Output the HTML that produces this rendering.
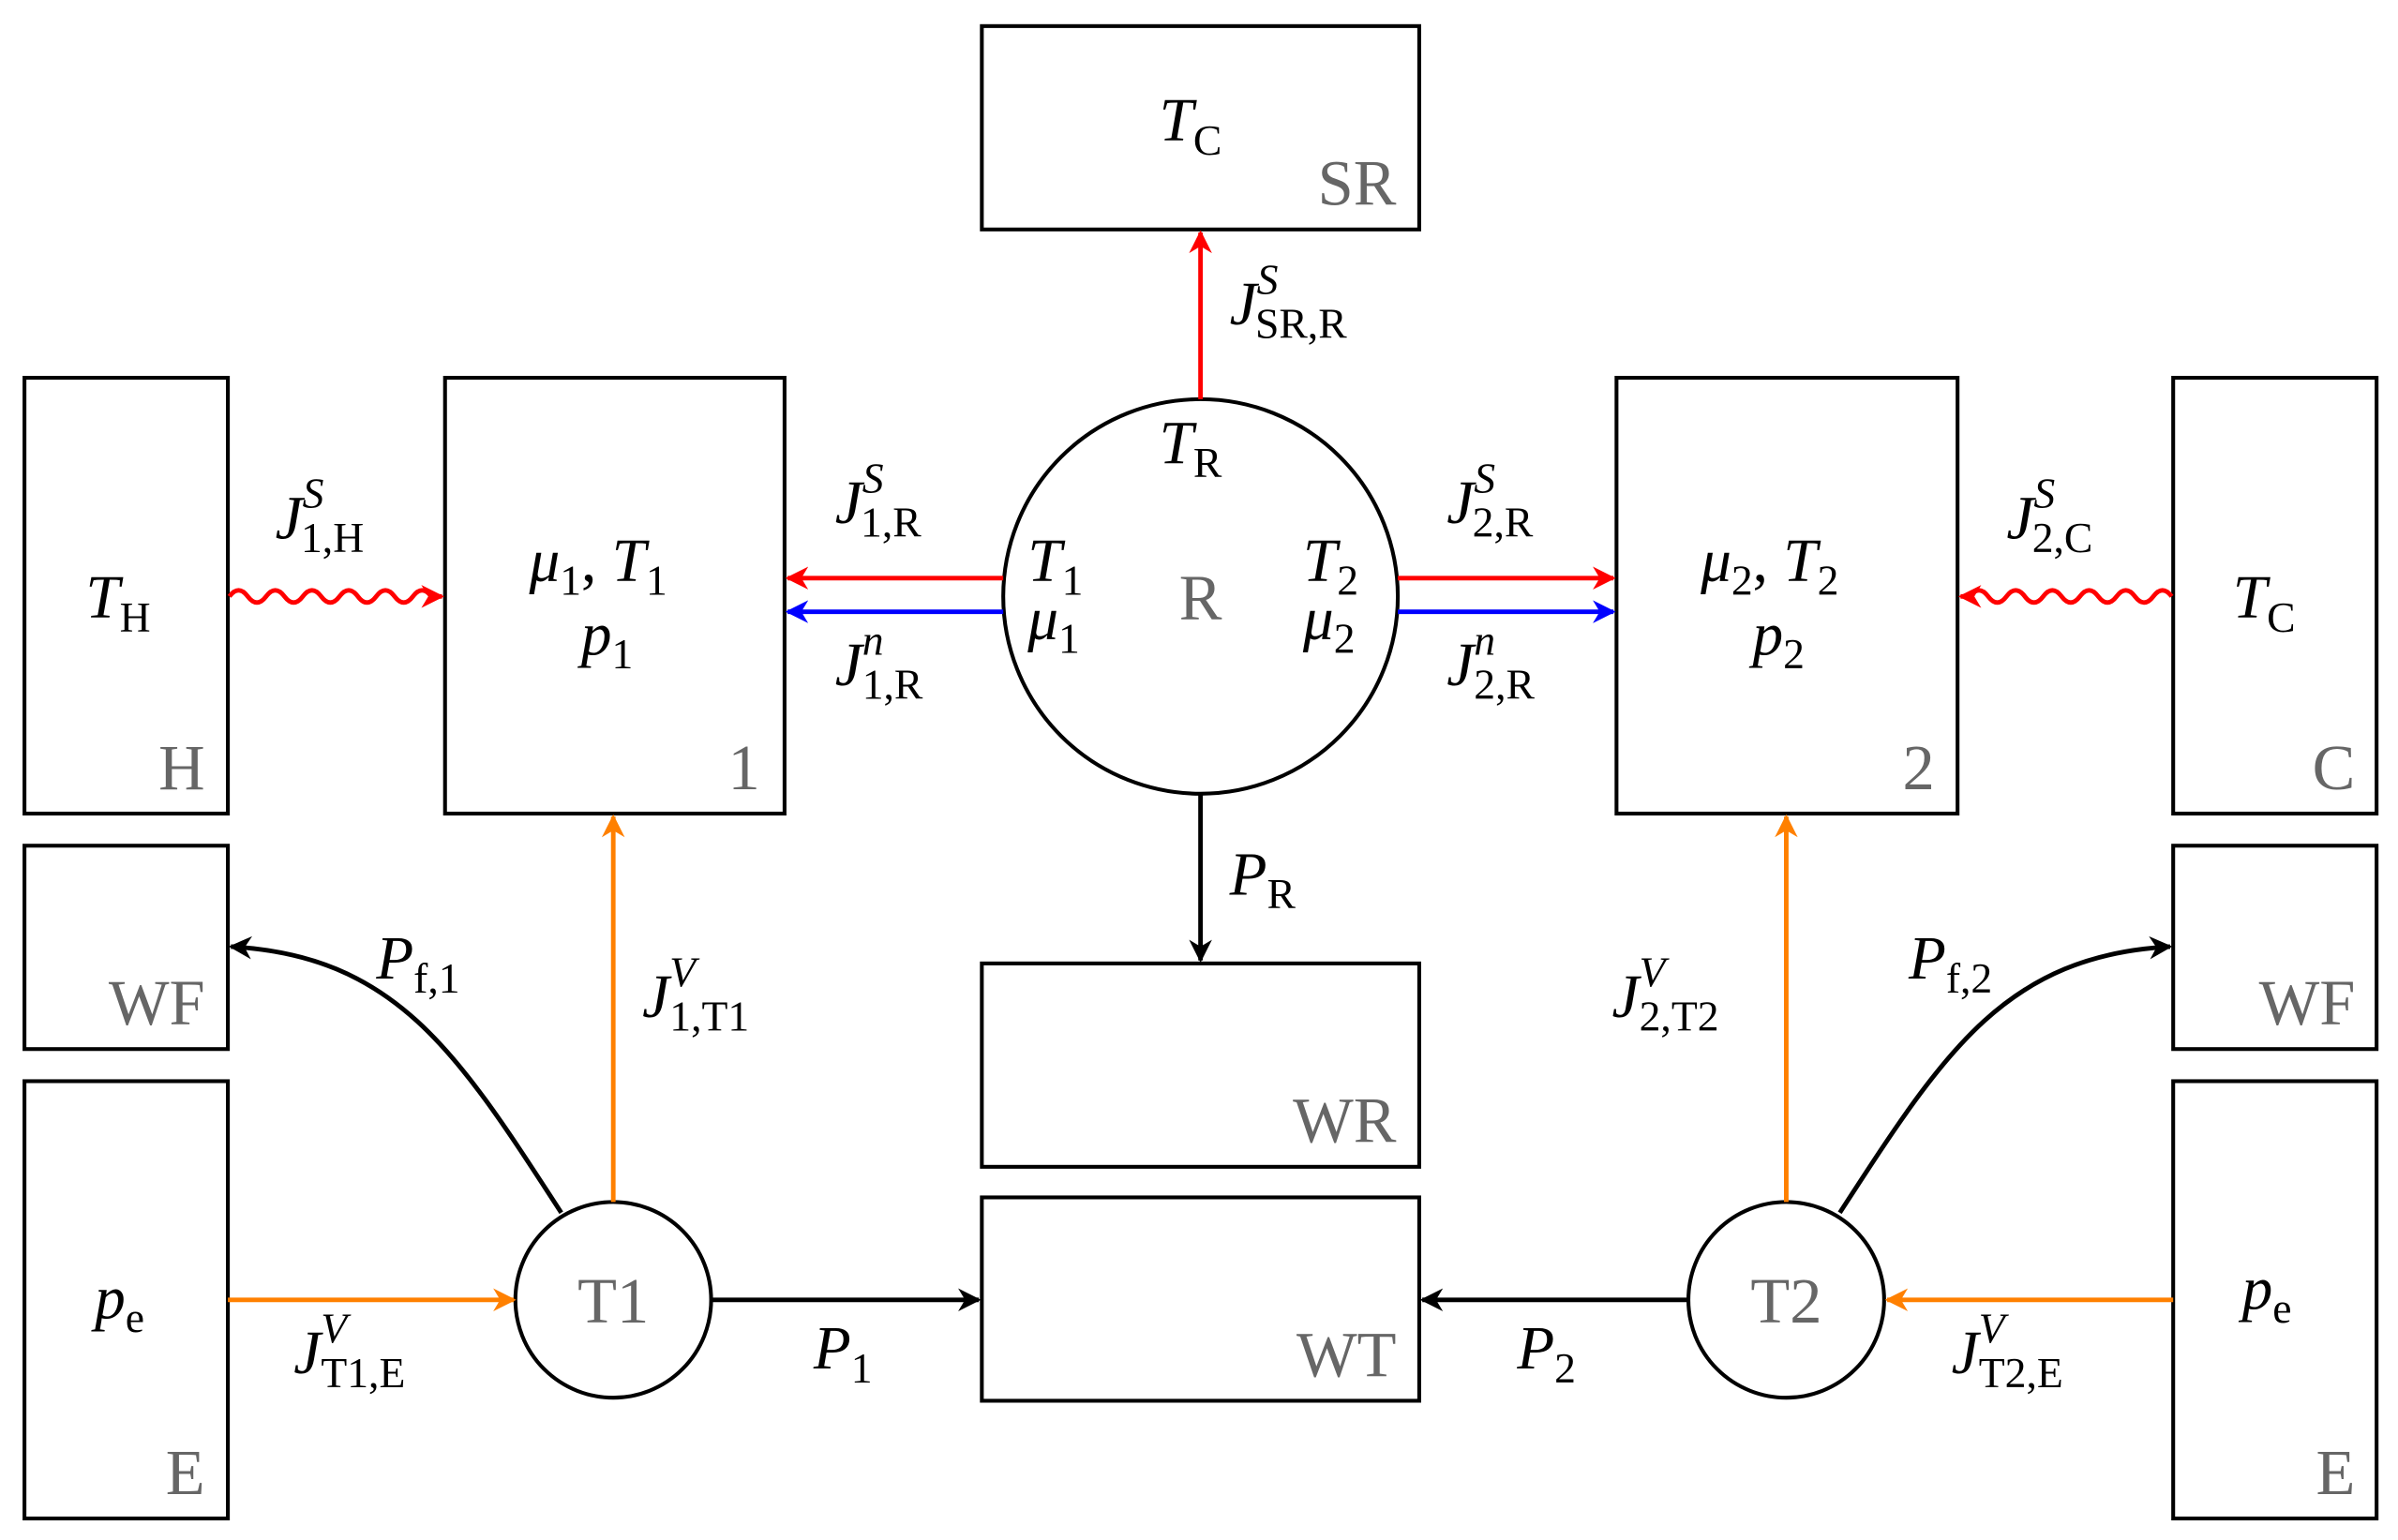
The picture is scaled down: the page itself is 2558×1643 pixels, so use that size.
<!DOCTYPE html>
<html><head><meta charset="utf-8"><style>
html,body{margin:0;padding:0;background:#fff}
svg{display:block}
text{font-family:"Liberation Serif",serif;font-size:40px}
.i{font-style:italic}
.g{fill:#666;font-size:42px}
.s{font-size:28px}
</style></head><body>
<svg width="2558" height="1643" viewBox="0 0 1568 1007" xmlns="http://www.w3.org/2000/svg">
<defs>
<marker id="ak" viewBox="0 0 10 10" refX="9" refY="5" markerWidth="5" markerHeight="5" orient="auto"><path d="M0,0 L10,5 L0,10 L3,5 z" fill="#000"/></marker>
<marker id="ar" viewBox="0 0 10 10" refX="9" refY="5" markerWidth="5" markerHeight="5" orient="auto"><path d="M0,0 L10,5 L0,10 L3,5 z" fill="#f00"/></marker>
<marker id="ab" viewBox="0 0 10 10" refX="9" refY="5" markerWidth="5" markerHeight="5" orient="auto"><path d="M0,0 L10,5 L0,10 L3,5 z" fill="#00f"/></marker>
<marker id="ao" viewBox="0 0 10 10" refX="9" refY="5" markerWidth="5" markerHeight="5" orient="auto"><path d="M0,0 L10,5 L0,10 L3,5 z" fill="#ff8000"/></marker>
</defs>
<g fill="none" stroke="#000" stroke-width="2.5">
<rect x="642" y="17" width="286" height="133"/>
<rect x="16" y="247" width="133" height="285"/>
<rect x="291" y="247" width="222" height="285"/>
<rect x="1057" y="247" width="223" height="285"/>
<rect x="1421" y="247" width="133" height="285"/>
<rect x="16" y="553" width="133" height="133"/>
<rect x="1421" y="553" width="133" height="133"/>
<rect x="16" y="707" width="133" height="286"/>
<rect x="1421" y="707" width="133" height="286"/>
<rect x="642" y="630" width="286" height="133"/>
<rect x="642" y="783" width="286" height="133"/>
<circle cx="785" cy="390" r="129"/>
<circle cx="401" cy="850" r="64"/>
<circle cx="1168" cy="850" r="64"/>
</g>
<g fill="none" stroke-width="3">
<line x1="785" y1="261" x2="785" y2="152" stroke="#f00" marker-end="url(#ar)"/>
<line x1="656" y1="378" x2="515" y2="378" stroke="#f00" marker-end="url(#ar)"/>
<line x1="656" y1="400" x2="515" y2="400" stroke="#00f" marker-end="url(#ab)"/>
<line x1="914" y1="378" x2="1055" y2="378" stroke="#f00" marker-end="url(#ar)"/>
<line x1="914" y1="400" x2="1055" y2="400" stroke="#00f" marker-end="url(#ab)"/>
<path d="M150,390 q6,-8 12,0 t12,0 t12,0 t12,0 t12,0 t12,0 t12,0 t12,0 t12,0 t12,0 t12,0 L289,390" stroke="#f00" marker-end="url(#ar)"/>
<path d="M1420,390 q-6,-8 -12,0 t-12,0 t-12,0 t-12,0 t-12,0 t-12,0 t-12,0 t-12,0 t-12,0 t-12,0 t-12,0 L1282,390" stroke="#f00" marker-end="url(#ar)"/>
<line x1="785" y1="518" x2="785" y2="628" stroke="#000" marker-end="url(#ak)"/>
<line x1="401" y1="786" x2="401" y2="534" stroke="#ff8000" marker-end="url(#ao)"/>
<line x1="1168" y1="786" x2="1168" y2="534" stroke="#ff8000" marker-end="url(#ao)"/>
<line x1="149" y1="850" x2="336" y2="850" stroke="#ff8000" marker-end="url(#ao)"/>
<line x1="1421" y1="850" x2="1234" y2="850" stroke="#ff8000" marker-end="url(#ao)"/>
<line x1="465" y1="850" x2="640" y2="850" stroke="#000" marker-end="url(#ak)"/>
<line x1="1104" y1="850" x2="930" y2="850" stroke="#000" marker-end="url(#ak)"/>
<path d="M367,793 C300,690 260,625 151,619" stroke="#000" marker-end="url(#ak)"/>
<path d="M1203,793 C1270,690 1310,625 1419,619" stroke="#000" marker-end="url(#ak)"/>
</g>
<text class="g" x="913" y="134" text-anchor="end">SR</text>
<text class="g" x="134" y="516" text-anchor="end">H</text>
<text class="g" x="497" y="516" text-anchor="end">1</text>
<text class="g" x="1265" y="516" text-anchor="end">2</text>
<text class="g" x="1540" y="516" text-anchor="end">C</text>
<text class="g" x="134" y="670" text-anchor="end">WF</text>
<text class="g" x="1540" y="670" text-anchor="end">WF</text>
<text class="g" x="134" y="977" text-anchor="end">E</text>
<text class="g" x="1540" y="977" text-anchor="end">E</text>
<text class="g" x="913" y="747" text-anchor="end">WR</text>
<text class="g" x="913" y="900" text-anchor="end">WT</text>
<text class="g" x="785" y="405" text-anchor="middle">R</text>
<text class="g" x="401" y="865" text-anchor="middle">T1</text>
<text class="g" x="1168" y="865" text-anchor="middle">T2</text>
<text x="758" y="92"><tspan class="i">T</tspan><tspan class="s" dy="9">C</tspan></text>
<text x="56" y="404"><tspan class="i">T</tspan><tspan class="s" dy="9">H</tspan></text>
<text x="1460" y="404"><tspan class="i">T</tspan><tspan class="s" dy="9">C</tspan></text>
<text x="346" y="380"><tspan class="i">μ</tspan><tspan class="s" dy="9">1</tspan><tspan dy="-9">, </tspan><tspan class="i">T</tspan><tspan class="s" dy="9">1</tspan></text>
<text x="380" y="428"><tspan class="i">p</tspan><tspan class="s" dy="9">1</tspan></text>
<text x="1112" y="380"><tspan class="i">μ</tspan><tspan class="s" dy="9">2</tspan><tspan dy="-9">, </tspan><tspan class="i">T</tspan><tspan class="s" dy="9">2</tspan></text>
<text x="1146" y="428"><tspan class="i">p</tspan><tspan class="s" dy="9">2</tspan></text>
<text x="758" y="303"><tspan class="i">T</tspan><tspan class="s" dy="9">R</tspan></text>
<text x="672" y="380"><tspan class="i">T</tspan><tspan class="s" dy="9">1</tspan></text>
<text x="672" y="418"><tspan class="i">μ</tspan><tspan class="s" dy="9">1</tspan></text>
<text x="852" y="380"><tspan class="i">T</tspan><tspan class="s" dy="9">2</tspan></text>
<text x="852" y="418"><tspan class="i">μ</tspan><tspan class="s" dy="9">2</tspan></text>
<text x="62" y="862"><tspan class="i">p</tspan><tspan class="s" dy="9">e</tspan></text>
<text x="1466" y="856"><tspan class="i">p</tspan><tspan class="s" dy="9">e</tspan></text>
<text x="804" y="212"><tspan class="i">J</tspan><tspan class="s i" dy="-20">S</tspan><tspan class="s" dx="-15" dy="29">SR,R</tspan></text>
<text x="180" y="352"><tspan class="i">J</tspan><tspan class="s i" dy="-20">S</tspan><tspan class="s" dx="-15" dy="29">1,H</tspan></text>
<text x="546" y="342"><tspan class="i">J</tspan><tspan class="s i" dy="-20">S</tspan><tspan class="s" dx="-15" dy="29">1,R</tspan></text>
<text x="546" y="448"><tspan class="i">J</tspan><tspan class="s i" dy="-20">n</tspan><tspan class="s" dx="-14" dy="29">1,R</tspan></text>
<text x="946" y="342"><tspan class="i">J</tspan><tspan class="s i" dy="-20">S</tspan><tspan class="s" dx="-15" dy="29">2,R</tspan></text>
<text x="946" y="448"><tspan class="i">J</tspan><tspan class="s i" dy="-20">n</tspan><tspan class="s" dx="-14" dy="29">2,R</tspan></text>
<text x="1312" y="352"><tspan class="i">J</tspan><tspan class="s i" dy="-20">S</tspan><tspan class="s" dx="-15" dy="29">2,C</tspan></text>
<text x="804" y="585"><tspan class="i">P</tspan><tspan class="s" dy="9">R</tspan></text>
<text x="246" y="640"><tspan class="i">P</tspan><tspan class="s" dy="9">f,1</tspan></text>
<text x="1248" y="640"><tspan class="i">P</tspan><tspan class="s" dy="9">f,2</tspan></text>
<text x="420" y="665"><tspan class="i">J</tspan><tspan class="s i" dy="-20">V</tspan><tspan class="s" dx="-17" dy="29">1,T1</tspan></text>
<text x="1054" y="665"><tspan class="i">J</tspan><tspan class="s i" dy="-20">V</tspan><tspan class="s" dx="-17" dy="29">2,T2</tspan></text>
<text x="192" y="898"><tspan class="i">J</tspan><tspan class="s i" dy="-20">V</tspan><tspan class="s" dx="-17" dy="29">T1,E</tspan></text>
<text x="1276" y="898"><tspan class="i">J</tspan><tspan class="s i" dy="-20">V</tspan><tspan class="s" dx="-17" dy="29">T2,E</tspan></text>
<text x="532" y="895"><tspan class="i">P</tspan><tspan class="s" dy="9">1</tspan></text>
<text x="992" y="895"><tspan class="i">P</tspan><tspan class="s" dy="9">2</tspan></text>
</svg>
</body></html>
